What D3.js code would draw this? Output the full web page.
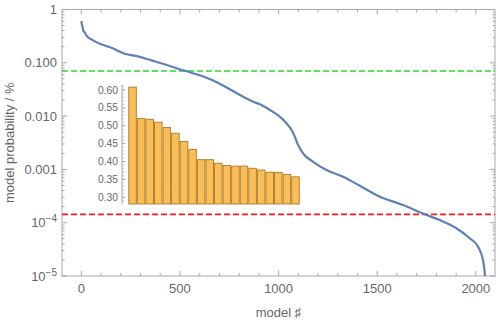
<!DOCTYPE html>
<html><head><meta charset="utf-8">
<script src="https://cdnjs.cloudflare.com/ajax/libs/d3/7.8.5/d3.min.js"></script>
<style>
html,body{margin:0;padding:0;background:#fff;}
svg{display:block;font-family:"Liberation Sans",Arial,sans-serif;}
</style></head><body>
<svg id="c" width="498" height="322"></svg>
<script>
// ---- data ----
const modelIndex = [1,2,3,4,5,6,7,8,9,10,11,12,13,14,15,16,17,18,19,20,
  25,59,101,152,220,287,355,422,490,557,625,692,777,871,905,956,1006,1040,1066,1082,1099,
  1124,1175,1243,1327,1412,1513,1631,1741,1817,1901,1969,2011,2036,2045,2046];
const modelProb = [0.608,0.520,0.518,0.510,0.495,0.479,0.456,0.434,0.405,0.405,
  0.395,0.389,0.387,0.387,0.381,0.376,0.370,0.369,0.364,0.357,
  0.328,0.264,0.222,0.192,0.148,0.132,0.111,0.0937,0.0775,0.0652,0.0541,0.0423,0.0283,
  0.0186,0.0166,0.0130,0.00975,0.00733,0.00548,0.00411,0.00287,0.00200,0.00139,0.000975,
  0.00073,0.000494,0.000308,0.000215,0.000144,0.000112,0.0000785,0.000051,0.0000355,
  0.000020,0.0000112,0.0000100];
const greenLevel = 0.070;
const redLevel = 0.000143;
const topRanks = ["1","2","3","4","5","6","7","8","9","10","11","12","13","14","15","16","17","18","19","20"];
const topProb = modelProb.slice(0,20);
const xTickValues = [0,500,1000,1500,2000];
const yTickValues = [1,0.1,0.01,0.001,1e-4,1e-5];
const yTickLabels = ["1","0.100","0.010","0.001","10|−4","10|−5"];
const insetTicks = [0.30,0.35,0.40,0.45,0.50,0.55,0.60];
const insetTickLabels = ["0.30","0.35","0.40","0.45","0.50","0.55","0.60"];

// ---- layout ----
const svg = d3.select("#c");
const L = 62, R = 495, T = 9.5, B = 276;
const frameCol = "#a8a8a8", textCol = "#676767";
const x = d3.scaleLinear().domain([-98, 2097]).range([L, R]);
const y = d3.scaleLog().domain([1e-5, 1]).range([B, T]);

// frame
svg.append("rect").attr("x",L).attr("y",T).attr("width",R-L).attr("height",B-T)
  .attr("fill","none").attr("stroke",frameCol).attr("stroke-width",1);

// x ticks (major + minor) bottom & top
const xMinor = d3.range(-0,2100,100).filter(v=>v%500!==0);
const gt = svg.append("g").attr("stroke",frameCol).attr("stroke-width",1);
xTickValues.forEach(v=>{
  gt.append("line").attr("x1",x(v)).attr("x2",x(v)).attr("y1",B).attr("y2",B-5);
  gt.append("line").attr("x1",x(v)).attr("x2",x(v)).attr("y1",T).attr("y2",T+5);
});
xMinor.forEach(v=>{
  gt.append("line").attr("x1",x(v)).attr("x2",x(v)).attr("y1",B).attr("y2",B-3);
  gt.append("line").attr("x1",x(v)).attr("x2",x(v)).attr("y1",T).attr("y2",T+3);
});
// y ticks
yTickValues.forEach(v=>{
  gt.append("line").attr("x1",L).attr("x2",L+5).attr("y1",y(v)).attr("y2",y(v));
  gt.append("line").attr("x1",R).attr("x2",R-5).attr("y1",y(v)).attr("y2",y(v));
});
for (let e=-5;e<0;e++){
  for (let m=2;m<=9;m++){
    const v = m*Math.pow(10,e);
    gt.append("line").attr("x1",L).attr("x2",L+2.5).attr("y1",y(v)).attr("y2",y(v));
    gt.append("line").attr("x1",R).attr("x2",R-2.5).attr("y1",y(v)).attr("y2",y(v));
  }
}

// tick labels
svg.append("g").selectAll("text").data(xTickValues).join("text")
  .attr("x",d=>x(d)).attr("y",293).attr("text-anchor","middle")
  .attr("font-size",13).attr("fill",textCol).text(d=>d);
const yl = svg.append("g");
yTickValues.forEach((v,i)=>{
  const lab = yTickLabels[i];
  const t = yl.append("text").attr("x",57).attr("y",y(v)+4.5).attr("text-anchor","end")
    .attr("font-size",13).attr("fill",textCol);
  if (lab.includes("|")){
    const [b,ex] = lab.split("|");
    t.append("tspan").text(b);
    t.append("tspan").attr("dy",-5).attr("font-size",10).text(ex);
  } else t.text(lab);
});

// axis titles
svg.append("text").attr("x",(L+R)/2).attr("y",317).attr("text-anchor","middle")
  .attr("font-size",13).attr("fill",textCol).text("model ♯");
svg.append("text").attr("transform",`translate(14,${(T+B)/2}) rotate(-90)`)
  .attr("text-anchor","middle").attr("font-size",13).attr("fill",textCol)
  .text("model probability / %");

// reference lines
svg.append("line").attr("x1",L).attr("x2",R).attr("y1",y(greenLevel)).attr("y2",y(greenLevel))
  .attr("stroke","#22e022").attr("stroke-width",1.6).attr("stroke-dasharray","6,3");
svg.append("line").attr("x1",L).attr("x2",R).attr("y1",y(redLevel)).attr("y2",y(redLevel))
  .attr("stroke","#ff1a1a").attr("stroke-width",1.6).attr("stroke-dasharray","6,3");

// inset bar chart
const ix = d3.scaleBand().domain(topRanks).range([128.5, 299.5]).paddingInner(0.12).paddingOuter(0.03);
const iy = d3.scaleLinear().domain([0.281, 0.614]).range([204, 85]);
const ig = svg.append("g");
ig.selectAll("rect").data(topProb).join("rect")
  .attr("x",(d,i)=>ix(topRanks[i])).attr("width",ix.bandwidth())
  .attr("y",d=>iy(d)).attr("height",d=>204-iy(d))
  .attr("fill","#fbbd55").attr("stroke","#a77a2c").attr("stroke-width",0.9);
ig.append("line").attr("x1",122).attr("x2",122).attr("y1",85).attr("y2",204)
  .attr("stroke",frameCol).attr("stroke-width",1);
d3.range(0.29,0.615,0.01).forEach(v=>{
  ig.append("line").attr("x1",122).attr("x2",124).attr("y1",iy(v)).attr("y2",iy(v))
    .attr("stroke",frameCol).attr("stroke-width",0.7);
});
insetTicks.forEach((v,i)=>{
  ig.append("line").attr("x1",122).attr("x2",125.5).attr("y1",iy(v)).attr("y2",iy(v))
    .attr("stroke",frameCol).attr("stroke-width",1);
  ig.append("text").attr("x",118).attr("y",iy(v)+3.6).attr("text-anchor","end")
    .attr("font-size",10.3).attr("fill",textCol).text(insetTickLabels[i]);
});

// main curve
const pts = modelIndex.map((m,i)=>[m, modelProb[i]]);
svg.append("path").datum(pts)
  .attr("d", d3.line().x(d=>x(d[0])).y(d=>y(d[1])).curve(d3.curveMonotoneX))
  .attr("fill","none").attr("stroke","#5e81b5").attr("stroke-width",2.2)
  .attr("stroke-linejoin","round");
</script>
</body></html>
